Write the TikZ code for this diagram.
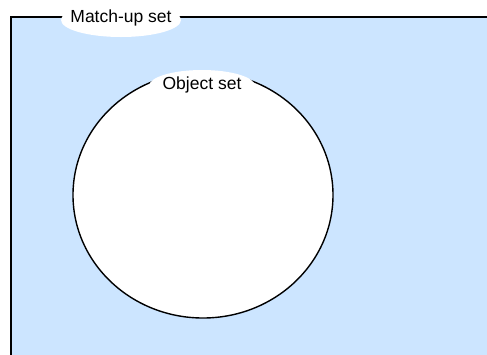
\documentclass[tikz,border=0pt]{standalone}
\usepackage{fontspec}
\setmainfont{Liberation Sans}
\definecolor{setblue}{HTML}{CCE5FF}
\begin{document}
\begin{tikzpicture}[x=1pt,y=-1pt,
    setlabel/.style={inner sep=0pt, font=\fontsize{17.5}{20}\selectfont}]
    \useasboundingbox (0,0) rectangle (487,354);
    \clip (0,0) rectangle (487,354);

    % Match-up set area
    \fill[setblue] (11,17) rectangle (500,370);
    \draw[line width=1.6pt] (11,370) -- (11,17) -- (500,17);

    % Object set circle
    \draw[line width=1.4pt, fill=white] (203,195) ellipse (130 and 123);

    % Labels on white patches
    \fill[white] (121,20) ellipse (60 and 17);
    \node[setlabel] (matchup) at (121,18) {Match-up set};
    \fill[white] (202,86) ellipse (53 and 16);
    \node[setlabel] (objset) at (202,85) {Object set};
\end{tikzpicture}
\end{document}
